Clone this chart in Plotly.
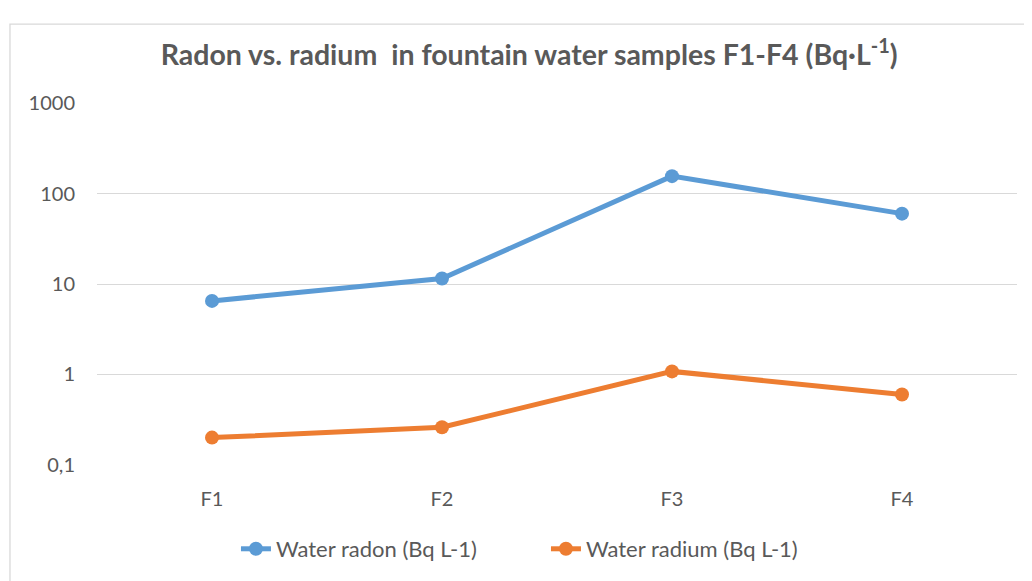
import plotly.graph_objects as go

categories = ["F1", "F2", "F3", "F4"]
radon = [6.5, 11.5, 156, 60]
radium = [0.20, 0.26, 1.08, 0.60]
tick_vals = [0.1, 1, 10, 100, 1000]
tick_text = ["0,1", "1", "10", "100", "1000"]

BLUE = "#5B9BD5"
ORANGE = "#ED7D31"
GREY = "#595959"
FONT = "Lato"

fig = go.Figure()
fig.add_trace(go.Scatter(x=categories, y=radon, mode="lines+markers",
                         name="Water radon (Bq L-1)",
                         line=dict(color=BLUE, width=5),
                         marker=dict(color=BLUE, size=14)))
fig.add_trace(go.Scatter(x=categories, y=radium, mode="lines+markers",
                         name="Water radium (Bq L-1)",
                         line=dict(color=ORANGE, width=5),
                         marker=dict(color=ORANGE, size=14)))

fig.update_layout(
    width=1032, height=581,
    margin=dict(l=89, r=23, t=95, b=124),
    paper_bgcolor="white", plot_bgcolor="white",
    font=dict(family=FONT, color=GREY, size=20),
    title=dict(text="<b>Radon vs. radium  in fountain water samples F1-F4 (Bq·L<sup>-1</sup>)</b>",
               x=0.505, xanchor="center", y=0.919, yanchor="middle",
               font=dict(family=FONT, size=28.5, color=GREY)),
    xaxis=dict(type="category", range=[-0.5, 3.5], showgrid=False, showline=False,
               ticks="", tickfont=dict(size=20, color=GREY), zeroline=False,
               ticklabelstandoff=20),
    yaxis=dict(type="log", range=[-1.002, 3.002], tickvals=tick_vals, ticktext=tick_text,
               showgrid=True, gridcolor="#D9D9D9", gridwidth=1.3, showline=False,
               zeroline=False, ticks="", ticklabelstandoff=21,
               tickfont=dict(size=20, color=GREY)),
    legend=dict(orientation="h", x=0.488, xanchor="center", y=-0.232, yanchor="middle",
                font=dict(size=22, color=GREY), entrywidth=265, entrywidthmode="pixels"),
    showlegend=True,
    shapes=[dict(type="rect", xref="paper", yref="paper",
                 x0=-0.0946, x1=1.2, y0=-0.6, y1=1.218,
                 line=dict(color="#D9D9D9", width=1.3), fillcolor="rgba(0,0,0,0)",
                 layer="below")],
)

fig.write_html("out.html")
